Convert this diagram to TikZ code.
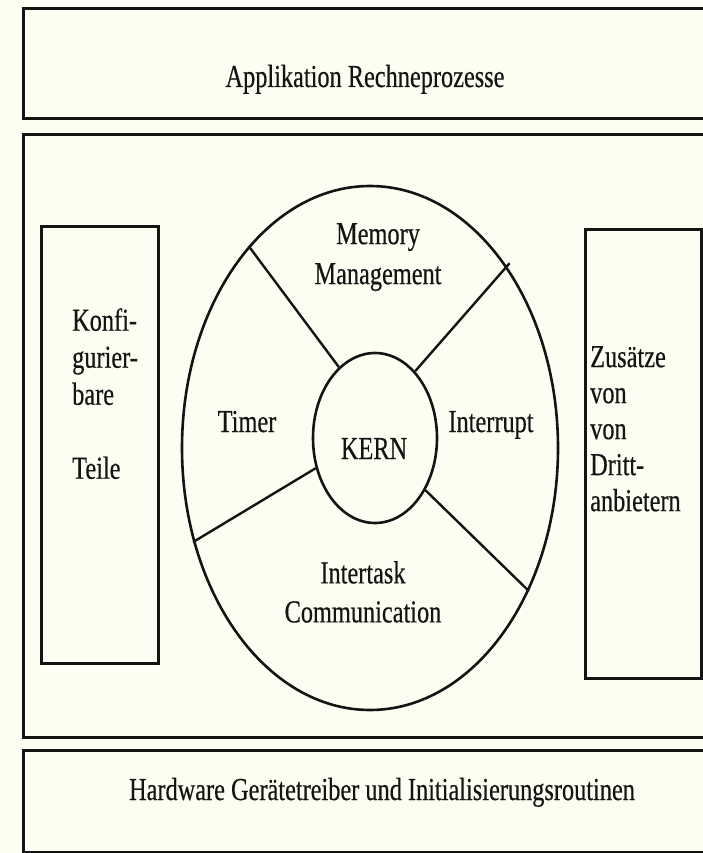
\documentclass[tikz,border=0pt]{standalone}
\usepackage{fontspec}
\setmainfont{Liberation Serif}[FakeStretch=0.76, FakeBold=0.4]
\usetikzlibrary{shapes.geometric}
\definecolor{paper}{RGB}{254,253,241}
\definecolor{ink}{RGB}{20,20,20}
\tikzset{
  frame/.style={draw=ink, line width=2.8pt, rectangle, inner sep=0pt},
  ring/.style={draw=ink, line width=2.6pt, ellipse, inner sep=0pt},
  spoke/.style={draw=ink, line width=2.4pt},
  txt/.style={inner sep=0pt, text=ink, font=\fontsize{32}{38}\selectfont},
}
\begin{document}
\begin{tikzpicture}[x=1pt, y=-1pt]
\useasboundingbox (0,0) rectangle (703,853);
\fill[paper] (0,0) rectangle (703,853);
\clip (0,0) rectangle (703,853);
% layer boxes (right side runs off the page)
\node[frame, minimum width=690pt, minimum height=110pt, anchor=north west] (top) at (22,7) {};
\node[frame, minimum width=690pt, minimum height=603pt, anchor=north west] (mid) at (22,133) {};
\node[frame, minimum width=690pt, minimum height=102pt, anchor=north west] (bot) at (22,749) {};
% side boxes
\node[frame, minimum width=117pt, minimum height=437pt, anchor=north west] (left) at (40,225) {};
\node[frame, minimum width=116pt, minimum height=449pt, anchor=north west] (right) at (584,228) {};
% ellipses
\node[ring, minimum width=376pt, minimum height=524pt] (outer) at (370,448) {};
\node[ring, minimum width=124pt, minimum height=170pt] (inner) at (375,438) {};
% spokes
\draw[spoke] (inner.117) -- (outer.121);
\draw[spoke, shorten >=-4pt] (inner.59) -- (outer.53);
\draw[spoke] (inner.207) -- (outer.208);
\draw[spoke] (inner.-46) -- (outer.-42);
% texts
\node[txt, anchor=base] (app) at (365,87) {Applikation Rechneprozesse};
\node[txt, anchor=base] (hw) at (382,800) {Hardware Gerätetreiber und Initialisierungsroutinen};
\node[txt, anchor=north, align=center, font=\fontsize{32}{40}\selectfont] (mem) at (378,223) {Memory\\Management};
\node[txt, anchor=base] (timer) at (247,432) {Timer};
\node[txt, anchor=base] (intr) at (491,432) {Interrupt};
\node[txt, anchor=base] (kern) at (374,459) {KERN};
\node[txt, anchor=north, align=center, font=\fontsize{32}{39}\selectfont] (itc) at (363,561) {Intertask\\Communication};
\node[txt, anchor=north west, align=left, font=\fontsize{32}{37}\selectfont] (konf) at (72,308) {Konfi-\\gurier-\\bare\\[37pt]Teile};
\node[txt, anchor=north west, align=left, font=\fontsize{32}{36}\selectfont] (zus) at (590,346) {Zusätze\\von\\von\\Dritt-\\anbietern};
\end{tikzpicture}
\end{document}
